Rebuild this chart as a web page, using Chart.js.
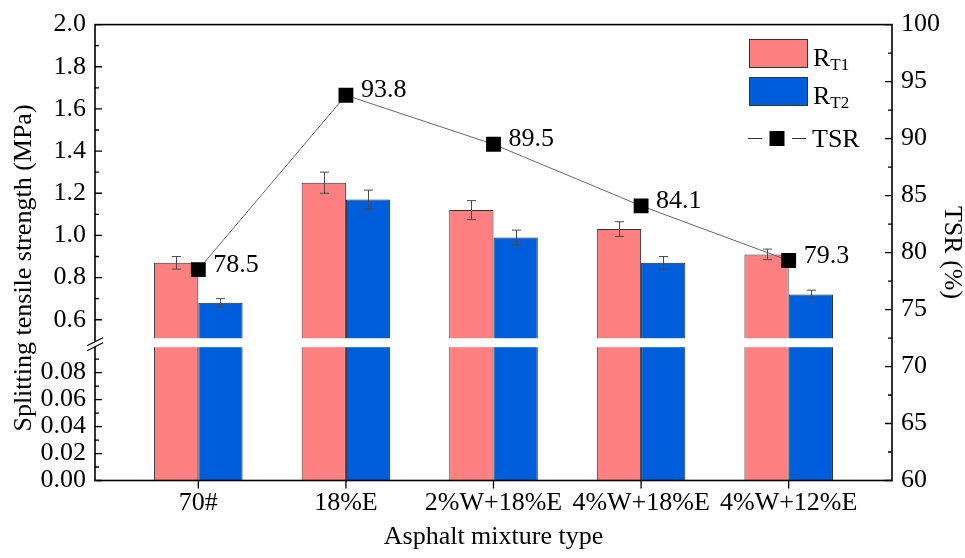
<!DOCTYPE html>
<html><head><meta charset="utf-8">
<script src="https://cdn.jsdelivr.net/npm/chart.js@4/dist/chart.umd.min.js"></script>
<style>html,body{margin:0;padding:0;background:#fff}canvas{display:block}</style>
</head><body>
<canvas id="c" width="965" height="558"></canvas>
<script>
const categories = ['70#', '18%E', '2%W+18%E', '4%W+18%E', '4%W+12%E'];
const rt1 = [0.87, 1.25, 1.12, 1.03, 0.91];
const rt1Err = [0.03, 0.05, 0.045, 0.035, 0.025];
const rt2 = [0.68, 1.17, 0.99, 0.87, 0.72];
const rt2Err = [0.02, 0.045, 0.035, 0.03, 0.02];
const tsr = [78.5, 93.8, 89.5, 84.1, 79.3];
const tsrLabels = ['78.5', '93.8', '89.5', '84.1', '79.3'];
const leftTickValues = [0, 0.02, 0.04, 0.06, 0.08, 0.6, 0.8, 1.0, 1.2, 1.4, 1.6, 1.8, 2.0];
const leftTickLabels = ['0.00', '0.02', '0.04', '0.06', '0.08', '0.6', '0.8', '1.0', '1.2', '1.4', '1.6', '1.8', '2.0'];
const leftMinorTicks = [0.01, 0.03, 0.05, 0.07, 0.09, 0.7, 0.9, 1.1, 1.3, 1.5, 1.7, 1.9];
const rightTickValues = [60, 65, 70, 75, 80, 85, 90, 95, 100];
const rightMinorTicks = [62.5, 67.5, 72.5, 77.5, 82.5, 87.5, 92.5, 97.5];
const lowerRange = [0, 0.1];
const upperRange = [0.5, 2.0];
const legendNames = [['R', 'T1'], ['R', 'T2'], ['TSR', '']];
const leftTitle = 'Splitting tensile strength (MPa)';

const RED = '#FF8080', BLUE = '#005EDC';
const FONT = '"Liberation Serif", "Times New Roman", serif';
const LOW_F = 0.2957, GAP_F = 0.0107, UP_F = 1 - LOW_F - GAP_F;

class BrokenScale extends Chart.LinearScale {
  static id = 'broken';
  static defaults = Chart.LinearScale.defaults;
  _frac(v) {
    if (v <= lowerRange[1]) return (v - lowerRange[0]) / (lowerRange[1] - lowerRange[0]) * LOW_F;
    if (v >= upperRange[0]) return LOW_F + GAP_F + (v - upperRange[0]) / (upperRange[1] - upperRange[0]) * UP_F;
    return LOW_F + (v - lowerRange[1]) / (upperRange[0] - lowerRange[1]) * GAP_F;
  }
  getPixelForValue(v) {
    if (v === null || v === undefined || isNaN(v)) return NaN;
    return this.bottom - this._frac(v) * (this.bottom - this.top);
  }
  getValueForPixel(p) {
    const f = (this.bottom - p) / (this.bottom - this.top);
    if (f <= LOW_F) return lowerRange[0] + f / LOW_F * (lowerRange[1] - lowerRange[0]);
    if (f >= LOW_F + GAP_F) return upperRange[0] + (f - LOW_F - GAP_F) / UP_F * (upperRange[1] - upperRange[0]);
    return lowerRange[1] + (f - LOW_F) / GAP_F * (upperRange[0] - lowerRange[1]);
  }
}
Chart.register(BrokenScale);

Chart.defaults.font.family = FONT;
Chart.defaults.font.size = 26;
Chart.defaults.color = '#000';

const decor = {
  id: 'decor',
  beforeDatasetDraw(chart, args) {
    if (args.index !== 2) return;
    const ctx = chart.ctx, y = chart.scales.y, ca = chart.chartArea;
    ctx.save();
    ctx.strokeStyle = '#4a4a4a'; ctx.lineWidth = 1;
    [[0, rt1, rt1Err], [1, rt2, rt2Err]].forEach(([di, vals, errs]) => {
      chart.getDatasetMeta(di).data.forEach((bar, i) => {
        const x = Math.round(bar.x) + 0.5;
        const yt = y.getPixelForValue(vals[i] + errs[i]);
        const yb = y.getPixelForValue(vals[i] - errs[i]);
        ctx.beginPath();
        ctx.moveTo(x, yt); ctx.lineTo(x, yb);
        ctx.moveTo(x - 4.5, yt); ctx.lineTo(x + 4.5, yt);
        ctx.moveTo(x - 4.5, yb); ctx.lineTo(x + 4.5, yb);
        ctx.stroke();
      });
    });
    const yTop = y.getPixelForValue(upperRange[0]) - 2.6;
    const yBot = y.getPixelForValue(lowerRange[1]) + 1.5;
    ctx.fillStyle = '#fff';
    ctx.fillRect(ca.left + 1, yTop, ca.right - ca.left - 2, yBot - yTop);
    ctx.restore();
  },
  afterDraw(chart) {
    const ctx = chart.ctx, ca = chart.chartArea;
    const y = chart.scales.y, y2 = chart.scales.y2, x = chart.scales.x;
    ctx.save();
    // frame
    ctx.strokeStyle = '#000'; ctx.lineWidth = 1.6;
    ctx.strokeRect(ca.left, ca.top, ca.right - ca.left, ca.bottom - ca.top);
    // ticks
    ctx.lineWidth = 1.3;
    ctx.beginPath();
    leftTickValues.forEach(v => { const p = y.getPixelForValue(v); ctx.moveTo(ca.left, p); ctx.lineTo(ca.left + 7, p); });
    leftMinorTicks.forEach(v => { const p = y.getPixelForValue(v); ctx.moveTo(ca.left, p); ctx.lineTo(ca.left + 4, p); });
    rightTickValues.forEach(v => { const p = y2.getPixelForValue(v); ctx.moveTo(ca.right, p); ctx.lineTo(ca.right - 7, p); });
    rightMinorTicks.forEach(v => { const p = y2.getPixelForValue(v); ctx.moveTo(ca.right, p); ctx.lineTo(ca.right - 4, p); });
    categories.forEach((c, i) => { const p = x.getPixelForValue(i + 1); ctx.moveTo(p, ca.bottom); ctx.lineTo(p, ca.bottom + 8); });
    ctx.stroke();
    // axis break marker
    const by = (y.getPixelForValue(upperRange[0]) + y.getPixelForValue(lowerRange[1])) / 2 + 1;
    const L = ca.left;
    ctx.fillStyle = '#fff';
    ctx.beginPath();
    ctx.moveTo(L - 8, by + 1.5); ctx.lineTo(L + 8, by - 6.5); ctx.lineTo(L + 8, by - 1.5); ctx.lineTo(L - 8, by + 6.5);
    ctx.closePath(); ctx.fill();
    ctx.lineWidth = 1.3;
    ctx.beginPath();
    ctx.moveTo(L - 8, by + 1.5); ctx.lineTo(L + 8, by - 6.5);
    ctx.moveTo(L - 8, by + 6.5); ctx.lineTo(L + 8, by - 1.5);
    ctx.stroke();
    // left axis title
    ctx.fillStyle = '#000';
    ctx.font = '26px ' + FONT;
    ctx.save();
    ctx.translate(24, 268);
    ctx.rotate(-Math.PI / 2);
    ctx.textAlign = 'center'; ctx.textBaseline = 'middle';
    ctx.fillText(leftTitle, 0, 0);
    ctx.restore();
    // TSR value labels
    ctx.textAlign = 'left'; ctx.textBaseline = 'alphabetic';
    chart.getDatasetMeta(2).data.forEach((pt, i) => {
      ctx.fillText(tsrLabels[i], pt.x + 15, pt.y + 2);
    });
    // legend
    const lx = 749.5;
    [[RED, 39.5, 66, 70], [BLUE, 77.5, 104, 108]].forEach(([col, top, base, sbase], k) => {
      ctx.fillStyle = col; ctx.fillRect(lx, top, 58, 28);
      ctx.strokeStyle = '#333'; ctx.lineWidth = 1; ctx.strokeRect(lx, top, 58, 28);
      ctx.fillStyle = '#000';
      ctx.font = '26px ' + FONT;
      ctx.fillText(legendNames[k][0], 813, base);
      const w = ctx.measureText(legendNames[k][0]).width;
      ctx.font = '17px ' + FONT;
      ctx.fillText(legendNames[k][1], 813 + w, sbase);
    });
    ctx.strokeStyle = '#333'; ctx.lineWidth = 1;
    ctx.beginPath();
    ctx.moveTo(748, 138.5); ctx.lineTo(762, 138.5);
    ctx.moveTo(792, 138.5); ctx.lineTo(806, 138.5);
    ctx.stroke();
    ctx.fillStyle = '#000';
    ctx.fillRect(769.5, 131, 15, 15);
    ctx.font = '26px ' + FONT;
    ctx.fillText(legendNames[2][0], 812, 146.5);
    ctx.restore();
  }
};

new Chart(document.getElementById('c'), {
  type: 'bar',
  data: {
    datasets: [
      { label: 'RT1', data: categories.map((c, i) => ({ x: i + 1, y: rt1[i] })), backgroundColor: RED, borderColor: '#333', borderWidth: 1, yAxisID: 'y', order: 1, categoryPercentage: 0.6, barPercentage: 1.0 },
      { label: 'RT2', data: categories.map((c, i) => ({ x: i + 1, y: rt2[i] })), backgroundColor: BLUE, borderColor: '#222', borderWidth: 1, yAxisID: 'y', order: 1, categoryPercentage: 0.6, barPercentage: 1.0 },
      { type: 'line', label: 'TSR', data: categories.map((c, i) => ({ x: i + 1, y: tsr[i] })), yAxisID: 'y2', order: 0,
        borderColor: '#666', borderWidth: 1, pointStyle: 'rect', pointRadius: 10.5, pointBackgroundColor: '#000', pointBorderColor: '#000', pointBorderWidth: 0, tension: 0 }
    ]
  },
  options: {
    responsive: false,
    animation: false,
    events: [],
    layout: { padding: { top: 20.5, left: 0, right: 0, bottom: 0 } },
    plugins: { legend: { display: false }, tooltip: { enabled: false } },
    scales: {
      x: {
        type: 'linear', min: 0.3, max: 5.7, offset: false,
        grid: { display: false, offset: false, drawTicks: false }, border: { display: false },
        afterBuildTicks: s => { s.ticks = categories.map((c, i) => ({ value: i + 1 })); },
        afterFit: s => { s.height = 77.5; },
        ticks: { autoSkip: false, maxRotation: 0, padding: 7, callback: v => categories[Math.round(v) - 1] },
        title: { display: true, text: 'Asphalt mixture type', font: { size: 26, lineHeight: 1.2 }, padding: { top: 0, bottom: 5 } }
      },
      y: {
        type: 'broken', position: 'left', min: 0, max: 2.0,
        grid: { display: false, drawTicks: false }, border: { display: false },
        afterBuildTicks: s => { s.ticks = leftTickValues.map(v => ({ value: v })); },
        afterFit: s => { s.width = 95; },
        ticks: { autoSkip: false, padding: 9, callback: (v, i) => leftTickLabels[i] },
        title: { display: false }
      },
      y2: {
        type: 'linear', position: 'right', min: 60, max: 100,
        grid: { display: false, drawTicks: false }, border: { display: false },
        afterBuildTicks: s => { s.ticks = rightTickValues.map(v => ({ value: v })); },
        afterFit: s => { s.width = 73; },
        ticks: { autoSkip: false, padding: 9, callback: v => String(v) },
        title: { display: true, text: 'TSR (%)', font: { size: 26, lineHeight: 1.0 }, padding: { top: 0, bottom: 0 } }
      }
    }
  },
  plugins: [decor]
});
</script>
</body></html>
